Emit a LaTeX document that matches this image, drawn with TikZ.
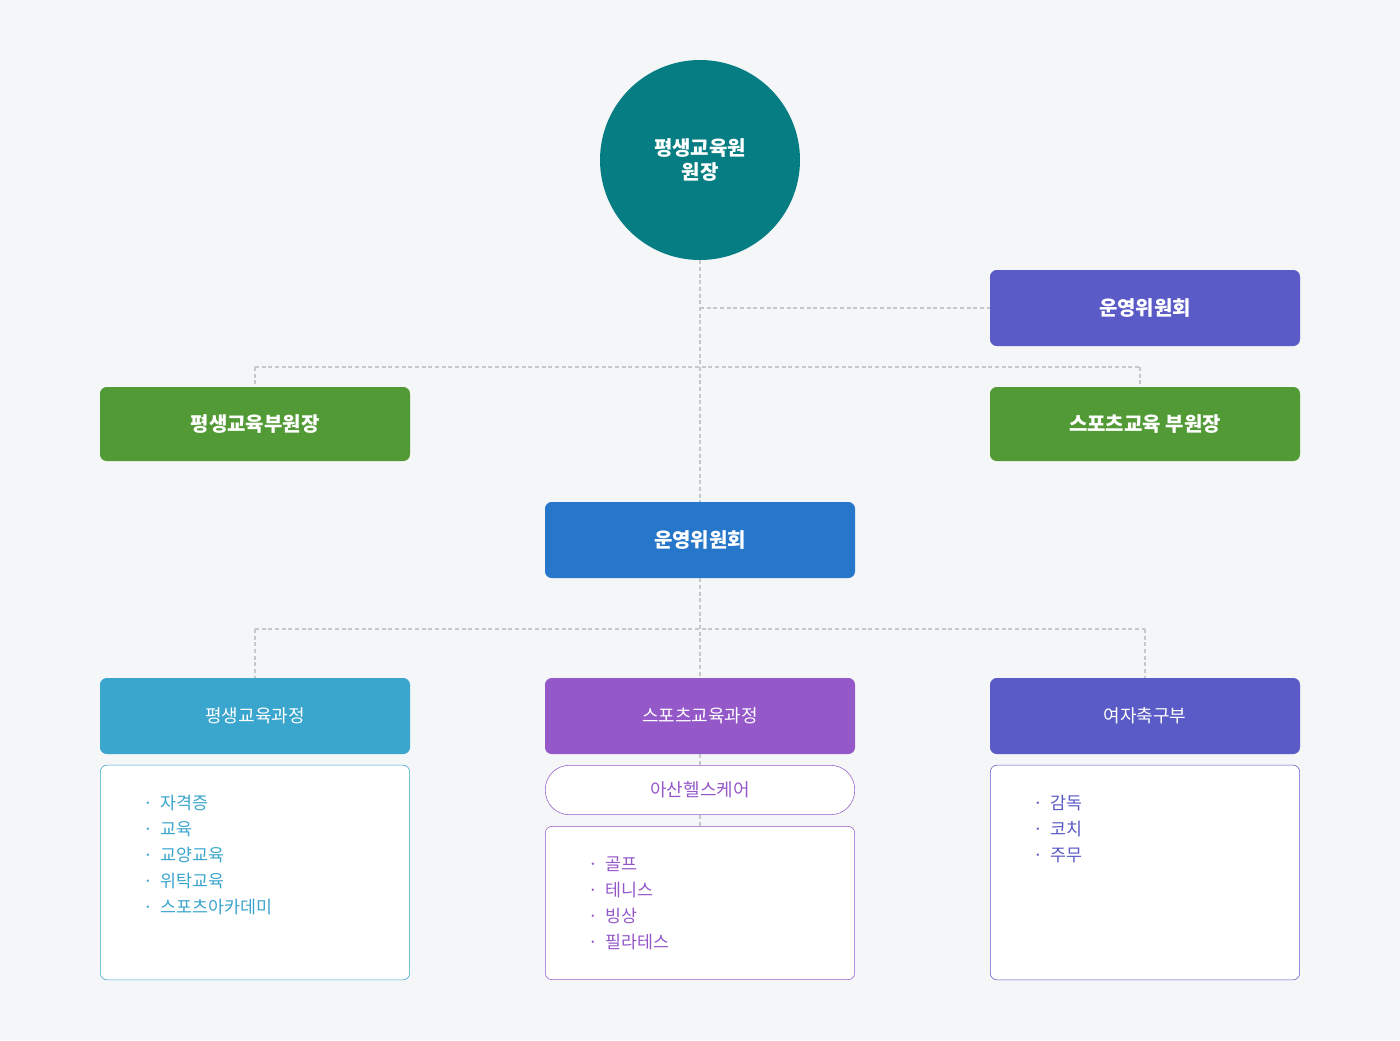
\documentclass[tikz,border=0pt]{standalone}
\usepackage{fontspec}
\newfontfamily\kr{Noto Sans CJK KR}
\definecolor{bg}{HTML}{F4F6F8}
\definecolor{teal}{HTML}{067D82}
\definecolor{indi}{HTML}{5A5BC7}
\definecolor{grn}{HTML}{529A35}
\definecolor{blu}{HTML}{2677C9}
\definecolor{cya}{HTML}{3AA5CD}
\definecolor{pur}{HTML}{9558C9}
\definecolor{dl}{HTML}{C4C9CE}
\begin{document}
\begin{tikzpicture}[x=0.75pt,y=-0.75pt,
  box/.style={rounded corners=5pt,inner sep=0pt},
  hd/.style={font=\kr\bfseries\fontsize{15}{18}\selectfont,text=white},
  sub/.style={font=\kr\fontsize{13.5}{16}\selectfont,text=white},
  dsh/.style={draw=dl,line width=1pt,dash pattern=on 3pt off 2pt},
  li/.style={font=\kr\fontsize{13}{16}\selectfont,anchor=west,inner sep=0pt}]
\fill[bg] (0,0) rectangle (1400,1040);
\useasboundingbox (0,0) rectangle (1400,1040);
% connectors
\coordinate (j1) at (700,308);
\coordinate (j2) at (700,367);
\coordinate (jl) at (255,367);
\coordinate (jr) at (1140,367);
\coordinate (k) at (700,629);
\coordinate (kl) at (255,629);
\coordinate (kr) at (1145,629);
\node[circle,fill=teal,minimum size=150pt,inner sep=0pt,font=\kr\bfseries\fontsize{15}{18}\selectfont,text=white,align=center] (top) at (700,160) {평생교육원\\원장};
\node[box,fill=indi,minimum width=232.5pt,minimum height=57pt,hd] (com) at (1145,308) {운영위원회};
\node[box,fill=grn,minimum width=232.5pt,minimum height=55.5pt,hd] (g1) at (255,424) {평생교육부원장};
\node[box,fill=grn,minimum width=232.5pt,minimum height=55.5pt,hd] (g2) at (1145,424) {스포츠교육 부원장};
\node[box,fill=blu,minimum width=232.5pt,minimum height=57pt,hd] (mid) at (700,540) {운영위원회};
\node[box,fill=cya,minimum width=232.5pt,minimum height=57pt,sub] (c1) at (255,716) {평생교육과정};
\node[box,fill=pur,minimum width=232.5pt,minimum height=57pt,sub] (c2) at (700,716) {스포츠교육과정};
\node[box,fill=indi,minimum width=232.5pt,minimum height=57pt,sub] (c3) at (1145,716) {여자축구부};
\node[rounded corners=18pt,draw=pur,fill=white,minimum width=232pt,minimum height=37pt,font=\kr\fontsize{13.5}{16}\selectfont,text=pur] (pill) at (700,790) {아산헬스케어};
\node[box,draw=cya,fill=white,minimum width=232pt,minimum height=161pt] (l1) at (255,872.5) {};
\node[box,draw=pur,fill=white,minimum width=232pt,minimum height=115pt] (l2) at (700,903) {};
\node[box,draw=indi,fill=white,minimum width=232pt,minimum height=161pt] (l3) at (1145,872.5) {};
\draw[dsh] (top.south) -- (mid.north);
\draw[dsh] (j1) -- (com.west);
\draw[dsh] (jl) -- (jr);
\draw[dsh] (jl) -- (g1.north);
\draw[dsh] (jr) -- (1140,387);
\draw[dsh] (mid.south) -- (c2.north);
\draw[dsh] (kl) -- (kr);
\draw[dsh] (kl) -- (c1.north);
\draw[dsh] (kr) -- (c3.north);
\draw[dsh] (c2.south) -- (pill.north);
\draw[dsh] (pill.south) -- (l2.north);
% lists
\foreach \t [count=\i] in {자격증,교육,교양교육,위탁교육,스포츠아카데미}
  \node[li,text=cya] (a\i) at (143,{803+26*(\i-1)}) {·\hspace{6pt}\t};
\foreach \t [count=\i] in {골프,테니스,빙상,필라테스}
  \node[li,text=pur] (b\i) at (588,{864+26*(\i-1)}) {·\hspace{6pt}\t};
\foreach \t [count=\i] in {감독,코치,주무}
  \node[li,text=indi] (d\i) at (1033,{803+26*(\i-1)}) {·\hspace{6pt}\t};
\end{tikzpicture}
\end{document}
